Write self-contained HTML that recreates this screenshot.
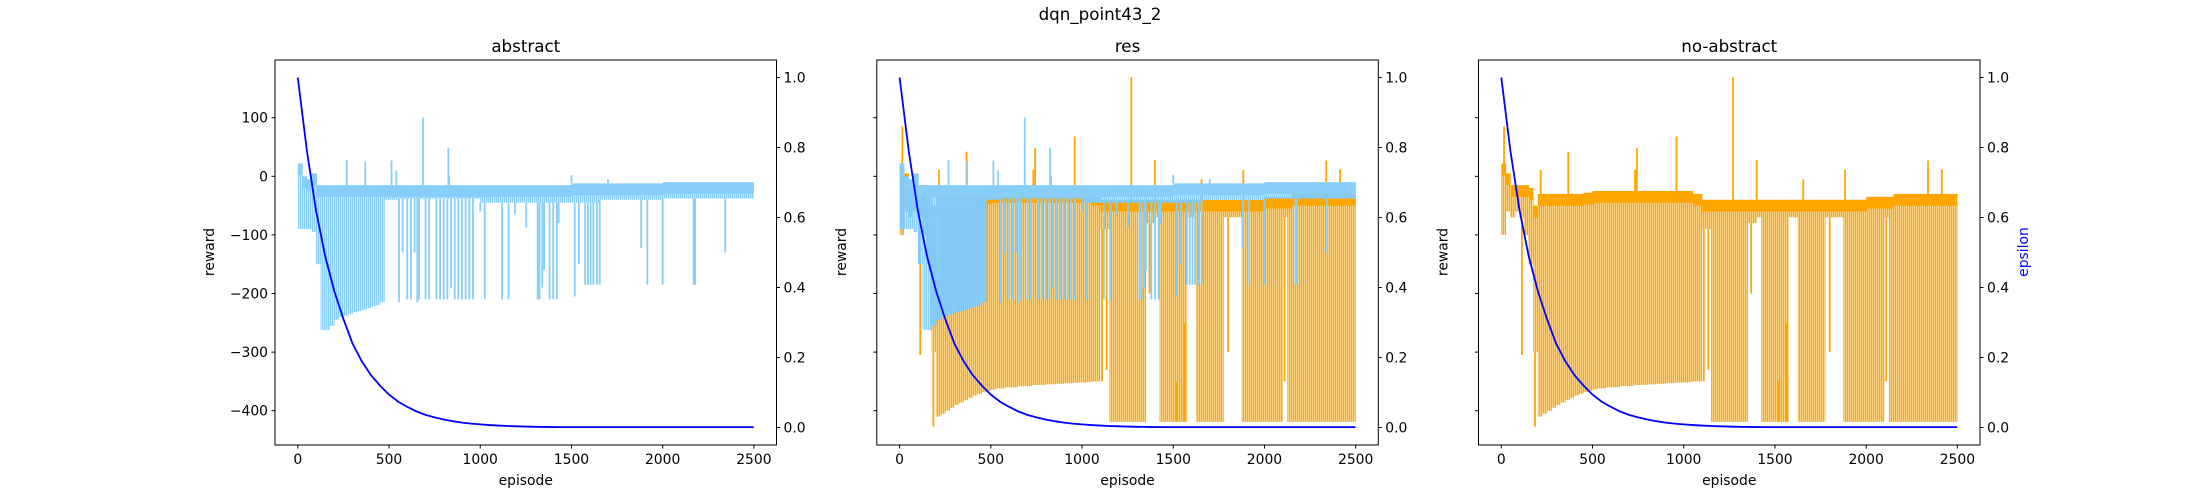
<!DOCTYPE html>
<html><head><meta charset="utf-8"><style>
html,body{margin:0;padding:0;background:#fff;}
svg{display:block;font-family:"DejaVu Sans","Liberation Sans",sans-serif;}
</style></head><body>
<svg id="fig" xmlns="http://www.w3.org/2000/svg" width="2200" height="500" viewBox="0 0 2200 500">
<defs>
<pattern id="stripe-blue" patternUnits="userSpaceOnUse" width="2" height="10"><rect x="0" y="0" width="1.5" height="10" fill="#87cefa"/></pattern>
<pattern id="stripe-orange" patternUnits="userSpaceOnUse" width="2" height="10"><rect x="0.5" y="0" width="1.5" height="10" fill="#ffa500"/></pattern>
</defs>
<rect width="2200" height="500" fill="#fff"/>
<text x="1100" y="20" font-size="16.7" text-anchor="middle">dqn_point43_2</text>
</svg>
<script>
// ---- data ----
const binWidth = 25;
const epsilonEpisodes = [0,50,100,150,200,250,300,350,400,450,500,550,600,650,700,750,800,850,900,950,1000,1050,1100,1150,1200,1250,1300,1350,1400,1450,1500,1600,1700,1800,1900,2000,2100,2200,2300,2400,2499];
const epsilonValues = [1.0,0.79,0.62,0.49,0.39,0.31,0.24,0.19,0.15,0.12,0.094,0.074,0.059,0.046,0.036,0.029,0.023,0.018,0.014,0.011,0.009,0.007,0.0055,0.0043,0.0034,0.0027,0.002,0.0016,0.0013,0.001,0.001,0.001,0.001,0.001,0.001,0.001,0.001,0.001,0.001,0.001,0.001];

// abstract reward (per 25-episode bin: dense band top / bottom)
const abstractTop = [22,0,-5,5,-15,-15,-15,-15,-15,-15,-15,-15,-15,-15,-15,-15,-15,-15,-15,-15,
 -15,-15,-15,-15,-15,-15,-15,-15,-15,-15,-15,-15,-15,-15,-15,-15,-15,-15,-15,-15,
 -15,-15,-15,-15,-15,-15,-15,-15,-15,-15,-15,-15,-15,-15,-15,-15,-15,-15,-15,-15,
 -12,-12,-12,-12,-12,-12,-12,-12,-12,-12,-12,-12,-12,-12,-12,-12,-12,-12,-12,-12,
 -10,-10,-10,-10,-10,-10,-10,-10,-10,-10,-10,-10,-10,-10,-10,-10,-10,-10,-10,-10];
const abstractBottom = [-90,-90,-90,-95,-150,-262,-262,-255,-245,-240,-238,-235,-232,-230,-228,-225,-222,-220,-215,-40,
 -40,-40,-38,-38,-38,-38,-38,-38,-38,-38,-38,-38,-38,-38,-38,-38,-38,-38,-38,-38,
 -45,-45,-45,-45,-45,-45,-45,-45,-45,-45,-45,-45,-45,-45,-45,-45,-45,-45,-45,-45,
 -45,-45,-45,-45,-45,-45,-40,-40,-40,-40,-40,-40,-40,-40,-40,-40,-40,-40,-40,-40,
 -38,-38,-38,-38,-38,-38,-38,-38,-38,-38,-38,-38,-38,-38,-38,-38,-38,-38,-38,-38];
const abstractUpEpisodes = [5,100,268,370,514,540,686,825,830,1500,1700];
const abstractUpValues = [22,5,28,25,27,10,100,49,0,2,-5];
const abstractDownEpisodes = [555,575,600,620,640,655,665,700,720,760,780,800,820,840,860,880,900,920,940,960,1000,1025,1120,1155,1190,1252,1315,1325,1340,1350,1380,1400,1420,1430,1518,1541,1575,1590,1605,1620,1640,1655,1882,1916,2000,2170,2178,2343];
const abstractDownValues = [-215,-130,-210,-210,-130,-215,-210,-210,-210,-210,-210,-210,-210,-190,-210,-210,-210,-210,-210,-210,-60,-210,-210,-210,-65,-87,-210,-210,-190,-160,-210,-210,-210,-80,-205,-150,-185,-185,-185,-185,-185,-185,-122,-185,-185,-185,-185,-130];

// no-abstract reward
const noAbsTop = [22,5,-15,-15,-15,-15,-20,-50,-30,-30,-30,-30,-30,-30,-30,-30,-30,-30,-28,-28,
 -25,-25,-25,-25,-25,-25,-25,-25,-25,-25,-25,-25,-25,-25,-25,-25,-25,-25,-25,-25,
 -25,-25,-30,-30,-40,-40,-40,-40,-40,-40,-40,-40,-40,-40,-40,-40,-40,-40,-40,-40,
 -40,-40,-40,-40,-40,-40,-40,-40,-40,-40,-40,-40,-40,-40,-40,-40,-40,-40,-40,-40,
 -35,-35,-35,-35,-35,-35,-30,-30,-30,-30,-30,-30,-30,-30,-30,-30,-30,-30,-30,-30];
const noAbsBottom = [-100,-60,-70,-60,-70,-100,-150,-300,-410,-405,-400,-395,-390,-386,-382,-378,-374,-371,-368,-366,
 -364,-362,-362,-360,-360,-360,-358,-358,-358,-356,-356,-356,-355,-355,-354,-354,-353,-353,-352,-352,
 -352,-351,-350,-350,-90,-90,-419,-419,-419,-419,-419,-419,-419,-419,-80,-80,-70,-419,-419,-419,
 -419,-419,-419,-70,-70,-419,-419,-419,-419,-419,-419,-70,-70,-70,-70,-419,-419,-419,-419,-419,
 -419,-419,-419,-419,-70,-419,-419,-419,-419,-419,-419,-419,-419,-419,-419,-419,-419,-419,-419,-419];
const noAbsUpEpisodes = [15,216,367,733,743,960,1270,1400,1655,1884,2339,2415];
const noAbsUpValues = [85,11,42,11,48,68,169,28,-5,11,27,12];
const noAbsDownEpisodes = [113,185,1110,1135,1370,1520,1560,1800,2110];
const noAbsDownValues = [-305,-427,-350,-330,-200,-350,-250,-300,-350];

const xTicks = [0,500,1000,1500,2000,2500];
const yTicks = [100,0,-100,-200,-300,-400];
const eTicks = [0.0,0.2,0.4,0.6,0.8,1.0];

// ---- layout ----
const NS = "http://www.w3.org/2000/svg";
const svg = document.getElementById('fig');
const axTop = 60, axBot = 445, axW = 501.5;
const axLefts = [275, 876.8, 1478.5];
const xMin = -125, xMax = 2624;
const yMin = -458.5, yMax = 198.5;
const eMin = -0.05, eMax = 1.05;
const BLUE = '#87cefa', ORANGE = '#ffa500';

function mk(tag, attrs, parent) {
  const e = document.createElementNS(NS, tag);
  for (const k in attrs) e.setAttribute(k, attrs[k]);
  (parent || svg).appendChild(e);
  return e;
}

function drawReward(g, sx, sy, top, bot, upE, upV, dnE, dnV, color, fillRef, name) {
  for (let i = 0; i < top.length; i++) {
    const x0 = sx(i * binWidth), x1 = sx(Math.min((i + 1) * binWidth, 2499));
    const yt = sy(top[i]), yb = sy(bot[i]);
    const solidH = Math.min(yb - yt, 12);
    const r1 = mk('rect', {x: x0, y: yt, width: x1 - x0 + 0.3, height: Math.max(1.5, solidH), fill: color}, g);
    
    
    if (yb - yt > solidH) {
      const r2 = mk('rect', {x: x0, y: yt + solidH, width: x1 - x0 + 0.3, height: yb - yt - solidH, fill: fillRef}, g);
      
      
    }
  }
  for (let i = 0; i < upE.length; i++) {
    const b = Math.min(top.length - 1, Math.floor(upE[i] / binWidth));
    const l = mk('line', {x1: sx(upE[i]), x2: sx(upE[i]), y1: sy(upV[i]), y2: sy(top[b]), stroke: color, 'stroke-width': 1.8}, g);
    
    
  }
  for (let i = 0; i < dnE.length; i++) {
    const b = Math.min(top.length - 1, Math.floor(dnE[i] / binWidth));
    const l = mk('line', {x1: sx(dnE[i]), x2: sx(dnE[i]), y1: sy(bot[b]), y2: sy(dnV[i]), stroke: color, 'stroke-width': 1.8}, g);
    
    
  }
}

const titles = ['abstract', 'res', 'no-abstract'];
const slugs = ['abstract', 'res', 'no-abstract'];
for (let p = 0; p < 3; p++) {
  const L = axLefts[p], R = L + axW;
  const sx = v => L + (v - xMin) / (xMax - xMin) * axW;
  const sy = v => axTop + (yMax - v) / (yMax - yMin) * (axBot - axTop);
  const se = v => axTop + (eMax - v) / (eMax - eMin) * (axBot - axTop);
  const g = mk('g', {});
  
  

  if (p === 1 || p === 2) drawReward(g, sx, sy, noAbsTop, noAbsBottom, noAbsUpEpisodes, noAbsUpValues, noAbsDownEpisodes, noAbsDownValues, ORANGE, 'url(#stripe-orange)', 'no-abstract-reward');
  if (p === 0 || p === 1) drawReward(g, sx, sy, abstractTop, abstractBottom, abstractUpEpisodes, abstractUpValues, abstractDownEpisodes, abstractDownValues, BLUE, 'url(#stripe-blue)', 'abstract-reward');

  const pts = epsilonEpisodes.map((e, i) => sx(e).toFixed(2) + ',' + se(epsilonValues[i]).toFixed(2)).join(' ');
  const eps = mk('polyline', {points: pts, fill: 'none', stroke: '#0000ff', 'stroke-width': 1.8}, g);
  
  

  const frame = mk('rect', {x: L, y: axTop, width: axW, height: axBot - axTop, fill: 'none', stroke: '#000', 'stroke-width': 1}, g);
  
  

  xTicks.forEach(t => {
    const x = sx(t);
    mk('line', {x1: x, x2: x, y1: axBot, y2: axBot + 3.5, stroke: '#000'}, g);
    const tx = mk('text', {x: x, y: axBot + 19, 'font-size': 13.9, 'text-anchor': 'middle'}, g);
    tx.textContent = String(t);
    
    
  });
  yTicks.forEach(t => {
    const y = sy(t);
    mk('line', {x1: L - 3.5, x2: L, y1: y, y2: y, stroke: '#000'}, g);
    if (p === 0) {
      const tx = mk('text', {x: L - 7, y: y + 5, 'font-size': 13.9, 'text-anchor': 'end'}, g);
      tx.textContent = (t < 0 ? '\u2212' + (-t) : String(t));
      
      
    }
  });
  eTicks.forEach(t => {
    const y = se(t);
    mk('line', {x1: R, x2: R + 3.5, y1: y, y2: y, stroke: '#000'}, g);
    const tx = mk('text', {x: R + 7, y: y + 5, 'font-size': 13.9}, g);
    tx.textContent = t.toFixed(1);
    
    
  });

  const title = mk('text', {x: L + axW / 2, y: axTop - 8, 'font-size': 16.7, 'text-anchor': 'middle'}, g);
  title.textContent = titles[p];
  
  

  const xl = mk('text', {x: L + axW / 2, y: axBot + 40, 'font-size': 13.9, 'text-anchor': 'middle'}, g);
  xl.textContent = 'episode';
  
  

  const ylx = L - 61 + (p === 0 ? 0 : 30);
  const yl = mk('text', {x: ylx, y: 252, 'font-size': 13.9, 'text-anchor': 'middle', transform: 'rotate(-90 ' + ylx + ' 252)'}, g);
  yl.textContent = 'reward';
  
  

  if (p === 2) {
    const el = mk('text', {x: R + 48, y: 252, 'font-size': 13.9, fill: '#0000ff', 'text-anchor': 'middle', transform: 'rotate(-90 ' + (R + 48) + ' 252)'}, g);
    el.textContent = 'epsilon';
    
    
  }
}
</script>
</body></html>
